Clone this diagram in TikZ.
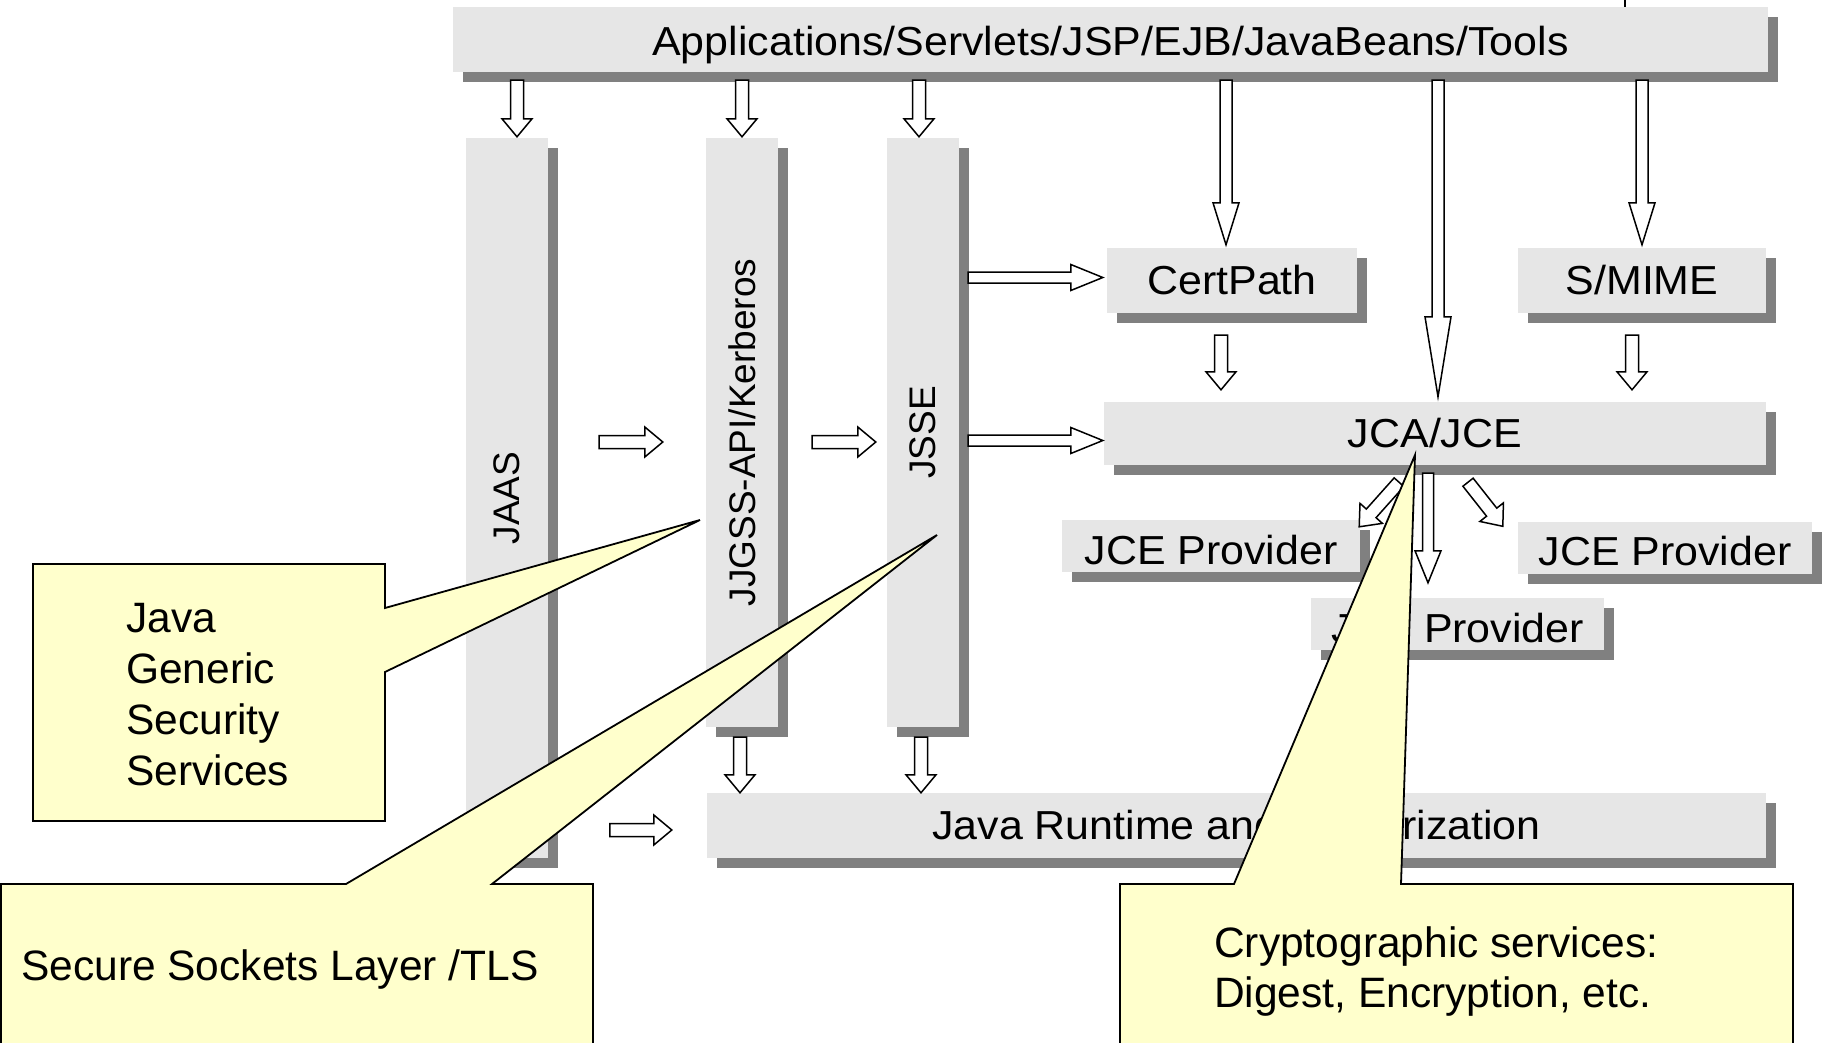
\documentclass[tikz,border=0pt]{standalone}
\usepackage{fontspec}
\setmainfont{Liberation Sans}
\newfontfamily\diagfont[FakeStretch=1.06]{Liberation Sans}
\usepackage{xcolor}
\usepackage{tikz}
\usetikzlibrary{calc}
\usetikzlibrary{shadows}
\usetikzlibrary{positioning}
\definecolor{boxgray}{HTML}{E6E6E6}
\definecolor{shadegray}{HTML}{808080}
\definecolor{noteyellow}{HTML}{FFFFCC}
\tikzset{
	blk/.style={rectangle,fill=boxgray,inner sep=0pt,
		drop shadow={shadow xshift=10pt,shadow yshift=-10pt,opacity=1,fill=shadegray},
		font={\diagfont\fontsize{40.5}{48}\selectfont}},
	coltxt/.style={inner sep=0pt,font={\fontsize{37}{44}\selectfont}},
	notetxt/.style={inner sep=0pt,anchor=base west,font={\fontsize{42.5}{51}\selectfont}},
	note/.style={fill=noteyellow,draw=black,line width=1.8pt,line join=miter},
	hollow/.style={draw=black,fill=white,line width=1.5pt,line join=miter,
		to path={($(\tikztostart)!\aw!-90:(\tikztotarget)$)
			-- ($(\tikztotarget)!\ahl!(\tikztostart)!\aw!90:(\tikztostart)$)
			-- ($(\tikztotarget)!\ahl!(\tikztostart)!\ahw!90:(\tikztostart)$)
			-- (\tikztotarget)
			-- ($(\tikztotarget)!\ahl!(\tikztostart)!\ahw!-90:(\tikztostart)$)
			-- ($(\tikztotarget)!\ahl!(\tikztostart)!\aw!-90:(\tikztostart)$)
			-- ($(\tikztostart)!\aw!90:(\tikztotarget)$) -- cycle}},
	shorthead/.code={\def\aw{6.5pt}\def\ahw{15pt}\def\ahl{18pt}},
	midhead/.code={\def\aw{5.5pt}\def\ahw{13pt}\def\ahl{32pt}},
	longhead/.code={\def\aw{6pt}\def\ahw{13pt}\def\ahl{42pt}},
	longerhead/.code={\def\aw{6pt}\def\ahw{13pt}\def\ahl{80pt}}
}

\begin{document}
\begin{tikzpicture}[x=1pt,y=-1pt]
	\useasboundingbox (0,0) rectangle (1831,1043);
	\draw[line width=1.5pt] (1625,0) -- (1625,11);
	% layers
	\node[blk,minimum width=1315,minimum height=65,text height=33pt,text depth=0pt] (apps) at (1110.5,39.5) {Applications/Servlets/JSP/EJB/JavaBeans/Tools};
	\node[blk,minimum width=82,minimum height=720] (jaas) at (507,498) {};
	\node[blk,minimum width=72,minimum height=589] (jgss) at (742,432.5) {};
	\node[blk,minimum width=72,minimum height=589] (jsse) at (923,432.5) {};
	\node[coltxt,rotate=90] (jaast) at (jaas) {JAAS};
	\node[coltxt,rotate=90] (jgsst) at (jgss) {JJGSS-API/Kerberos};
	\node[coltxt,rotate=90] (jsset) at (jsse) {JSSE};
	\node[blk,minimum width=250,minimum height=65] (certpath) at (1232,280.5) {CertPath};
	\node[blk,minimum width=248,minimum height=65,text width=228,align=center] (smime) at (1642,280.5) {S/MIME};
	\node[blk,minimum width=662,minimum height=63] (jca) at (1435,433.5) {JCA/JCE};
	\node[blk,minimum width=298,minimum height=52,text height=36pt,text depth=0pt] (provl) at (1211,546) {JCE Provider};
	\node[blk,minimum width=294,minimum height=52,text height=36pt,text depth=0pt] (provr) at (1665,547.5) {JCE Provider};
	\node[blk,minimum width=293,minimum height=52,text height=36pt,text depth=0pt] (provm) at (1457.5,624) {JCE Provider};
	\node[blk,minimum width=1059,minimum height=65] (runtime) at (1236.5,825.5) {Java Runtime and Authorization};
	% arrows
	\draw[hollow,shorthead] ($(apps.south -| jaas.north)+(10,8)$) to ($(jaas.north)+(10,-1)$);
	\draw[hollow,shorthead] ($(apps.south -| jgss.north)+(0,8)$) to ($(jgss.north)+(0,-1)$);
	\draw[hollow,shorthead] ($(apps.south -| jsse.north)+(-4,8)$) to ($(jsse.north)+(-4,-1)$);
	\draw[hollow,longhead] ($(apps.south -| certpath.north)+(-6,8)$) to ($(certpath.north)+(-6,-3)$);
	\draw[hollow,longerhead] ($(apps.south -| jca.north)+(3,8)$) to ($(jca.north)+(3,-5)$);
	\draw[hollow,longhead] ($(apps.south -| smime.north)+(0,8)$) to ($(smime.north)+(0,-3)$);
	\draw[hollow,shorthead] ($(certpath.south)+(-11,22)$) to ($(jca.north -| certpath.south)+(-11,-12)$);
	\draw[hollow,shorthead] ($(smime.south)+(-10,22)$) to ($(jca.north -| smime.south)+(-10,-12)$);
	\draw[hollow,midhead] ($(jsse.east |- certpath.west)+(9,-3)$) to ($(certpath.west)+(-4,-3)$);
	\draw[hollow,midhead] ($(jsse.east |- jca.west)+(9,7)$) to ($(jca.west)+(-1,7)$);
	\draw[hollow,shorthead] ($(jaas.east)+(51,-56)$) to ($(jgss.west)+(-43,9.5)$);
	\draw[hollow,shorthead] ($(jgss.east)+(34,9.5)$) to ($(jsse.west)+(-11,9.5)$);
	\draw[hollow,shorthead] ($(runtime.west)+(-97,4.5)$) to ($(runtime.west)+(-35,4.5)$);
	\draw[hollow,shorthead] ($(jgss.south)+(-2,10)$) to ($(runtime.north -| jgss.south)+(-2,0)$);
	\draw[hollow,shorthead] ($(jsse.south)+(-2,10)$) to ($(runtime.north -| jsse.south)+(-2,0)$);
	\draw[hollow,midhead] ($(jca.south)+(-7,8)$) to ($(provm.north -| jca.south)+(-7,-15)$);
	\draw[hollow,shorthead] ($(jca.south)+(-36,17)$) to ($(provl.north east)+(-1,7)$);
	\draw[hollow,shorthead] ($(jca.south)+(33,17)$) to ($(provr.north west)+(-15,5)$);
	% callouts
	\filldraw[note] (33,564) -- (385,564) -- (385,608) -- (700,520) -- (385,672) -- (385,821) -- (33,821) -- cycle;
	\foreach \w [count=\i from 0] in {Java,Generic,Security,Services}
		\node[notetxt] (gss\i) at (126,632+51*\i) {\w};
	\filldraw[note] (1,884) -- (346,884) -- (937,535) -- (492,884) -- (593,884) -- (593,1060) -- (1,1060) -- cycle;
	\node[notetxt] (ssl) at (21,980) {Secure Sockets Layer /TLS};
	\filldraw[note] (1120,884) -- (1234,884) -- (1415,455) -- (1401,884) -- (1793,884) -- (1793,1060) -- (1120,1060) -- cycle;
	\node[notetxt] (crypto1) at (1214,957) {Cryptographic services:};
	\node[notetxt] (crypto2) at (1214,1007) {Digest, Encryption, etc.};
\end{tikzpicture}
\end{document}
